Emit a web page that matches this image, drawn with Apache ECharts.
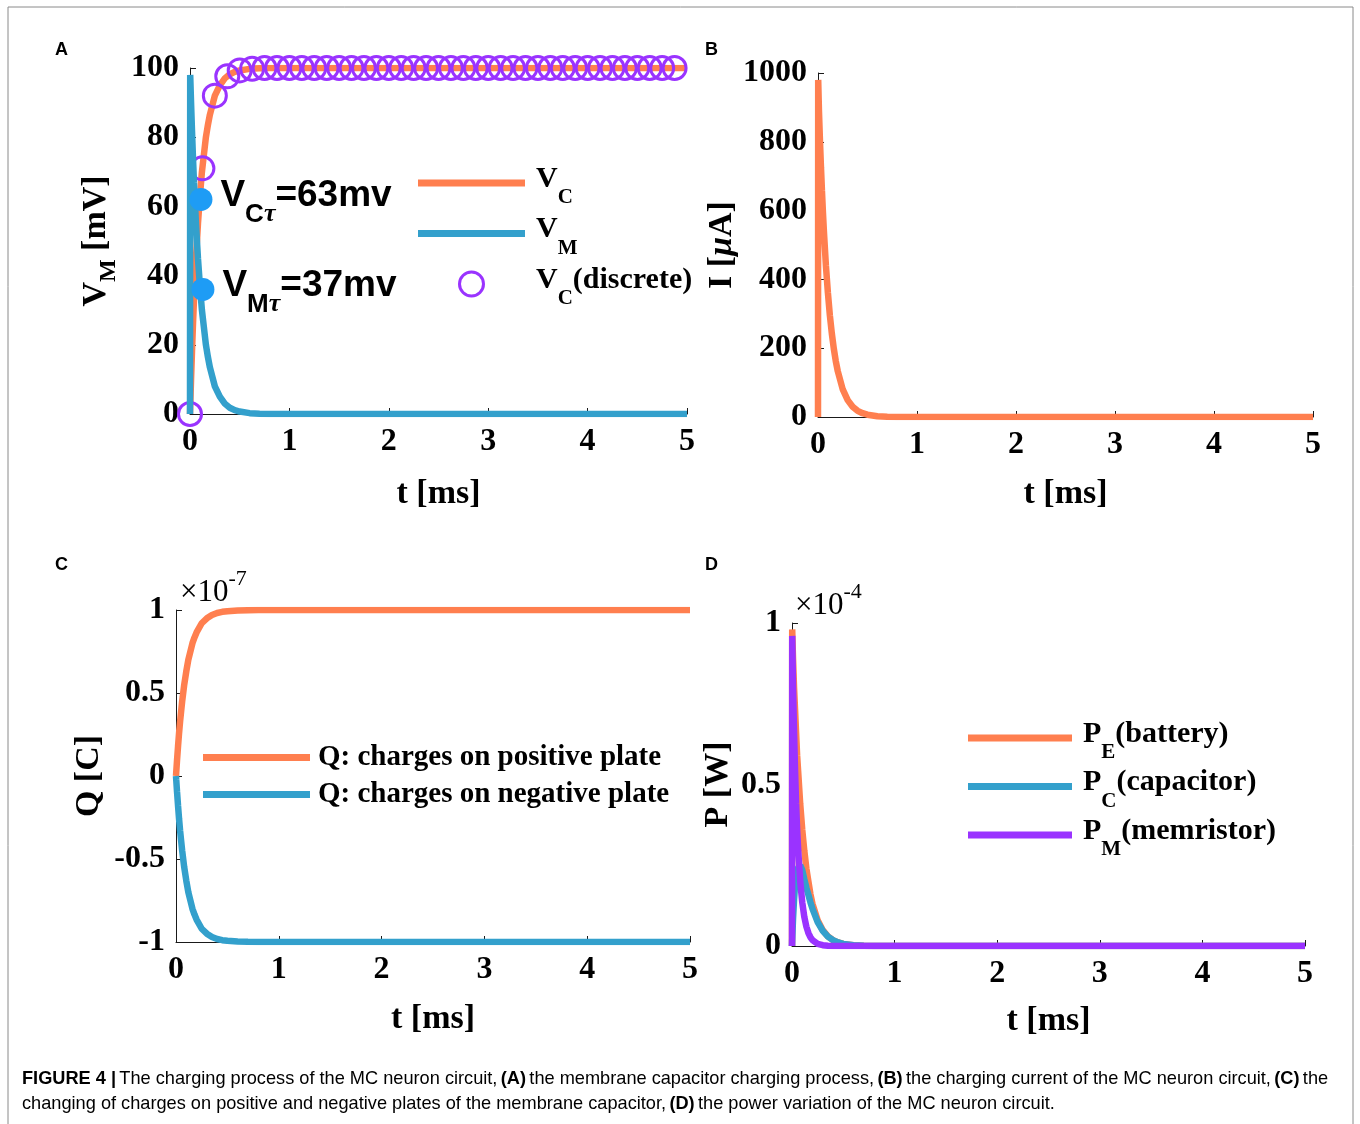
<!DOCTYPE html>
<html>
<head>
<meta charset="utf-8">
<script src="https://cdn.jsdelivr.net/npm/echarts@6/dist/echarts.min.js"></script>
<style>
html,body{margin:0;padding:0;background:#fff;}
#c{width:1360px;height:1124px;}
</style>
</head>
<body>
<div id="c"></div>
<script>
// ---- time samples (ms) for continuous curves ----
const tCurve = [0, 0.002, 0.01, 0.02, 0.03, 0.04, 0.05, 0.06, 0.08, 0.1, 0.12, 0.14, 0.16, 0.18, 0.2, 0.25, 0.3, 0.35, 0.4, 0.45, 0.5, 0.6, 0.7, 0.8, 1, 2, 3, 4, 5];
// Panel A (mV)
const vC = [0, 2, 9.5, 18, 26, 33, 39, 45, 55, 63, 70, 75, 80, 83.5, 86.5, 92, 95, 97, 98.2, 98.9, 99.3, 99.75, 99.9, 100, 100, 100, 100, 100, 100];
const vM = [0, 98, 90.5, 82, 74, 67, 61, 55, 45, 37, 30, 25, 20, 16.5, 13.5, 8, 5, 3, 1.8, 1.1, 0.7, 0.25, 0.1, 0, 0, 0, 0, 0, 0];
// discrete V_C samples
const tDisc = [0, 0.125, 0.25, 0.375, 0.5, 0.625, 0.75, 0.875, 1, 1.125, 1.25, 1.375, 1.5, 1.625, 1.75, 1.875, 2, 2.125, 2.25, 2.375, 2.5, 2.625, 2.75, 2.875, 3, 3.125, 3.25, 3.375, 3.5, 3.625, 3.75, 3.875, 4, 4.125, 4.25, 4.375, 4.5, 4.625, 4.75, 4.875];
const vCDisc = [0, 71, 92, 97.6, 99.3, 99.8, 100, 100, 100, 100, 100, 100, 100, 100, 100, 100, 100, 100, 100, 100, 100, 100, 100, 100, 100, 100, 100, 100, 100, 100, 100, 100, 100, 100, 100, 100, 100, 100, 100, 100];
// tau markers
const tauT = [0.11, 0.13];
const tauV = [62, 36];
const tauLabels = ['C', 'M'];
const tauText = ['=63mv', '=37mv'];
// Panel B (uA)
const iCur = [0, 980, 887, 802, 726, 657, 594, 538, 440, 361, 295, 242, 198, 162, 133, 80, 49, 30, 18, 11, 6.6, 2.4, 0.9, 0.3, 0, 0, 0, 0, 0];
// Panel C (x1e-7 C)
const qPos = [0, 0.02, 0.095, 0.18, 0.26, 0.33, 0.39, 0.45, 0.55, 0.63, 0.70, 0.75, 0.80, 0.835, 0.865, 0.92, 0.95, 0.97, 0.982, 0.989, 0.993, 0.9975, 0.999, 1, 1, 1, 1, 1, 1];
const qNeg = [0, -0.02, -0.095, -0.18, -0.26, -0.33, -0.39, -0.45, -0.55, -0.63, -0.70, -0.75, -0.80, -0.835, -0.865, -0.92, -0.95, -0.97, -0.982, -0.989, -0.993, -0.9975, -0.999, -1, -1, -1, -1, -1, -1];
// Panel D (x1e-4 W)
const pE = [0, 0.98, 0.89, 0.80, 0.73, 0.66, 0.59, 0.54, 0.44, 0.36, 0.295, 0.24, 0.20, 0.16, 0.13, 0.08, 0.049, 0.03, 0.018, 0.011, 0.0066, 0.0024, 0.001, 0, 0, 0, 0, 0, 0];
const pC = [0, 0.02, 0.084, 0.144, 0.189, 0.217, 0.232, 0.242, 0.25, 0.235, 0.207, 0.18, 0.158, 0.135, 0.115, 0.074, 0.047, 0.029, 0.018, 0.011, 0.0066, 0.0024, 0.0009, 0.0003, 0, 0, 0, 0, 0];
const pM = [0, 0.96, 0.80, 0.66, 0.54, 0.44, 0.36, 0.30, 0.20, 0.135, 0.09, 0.06, 0.04, 0.027, 0.018, 0.0067, 0.0025, 0.0009, 0.0003, 0, 0, 0, 0, 0, 0, 0, 0, 0, 0];
// axis ticks
const xTicks = {min: 0, max: 5, interval: 1};
const yA = {min: 0, max: 100, interval: 20};
const yB = {min: 0, max: 1000, interval: 200};
const yC = {min: -1, max: 1, interval: 0.5};
const yD = {min: 0, max: 1, interval: 0.5};

const ORANGE = '#FF7F4F', BLUE = '#33A0CC', PURPLE = '#9A33FF', DOT = '#1E9CF5';
const SERIF = '"Liberation Serif","Times New Roman",serif';
const SANS = '"Liberation Sans",Arial,sans-serif';

const zip = (a, b) => a.map((v, i) => [v, b[i]]);

const chart = echarts.init(document.getElementById('c'), null, {renderer: 'canvas'});

const grids = [
  {left: 190, top: 68, width: 497, height: 346},
  {left: 818, top: 73, width: 495, height: 344},
  {left: 176, top: 610, width: 514, height: 332},
  {left: 792, top: 623, width: 513, height: 323}
];

const nameRich = {
  m: {fontFamily: SERIF, fontWeight: 'bold', fontSize: 34, color: '#000'},
  i: {fontFamily: SERIF, fontWeight: 'bold', fontStyle: 'italic', fontSize: 34, color: '#000'},
  s: {fontFamily: SERIF, fontWeight: 'bold', fontSize: 24, color: '#000', padding: [26, 0, 0, 0]}
};

function xAxis(i, gap) {
  return Object.assign({
    type: 'value', gridIndex: i,
    name: '{m|t [ms]}', nameLocation: 'middle', nameGap: gap,
    nameTextStyle: {rich: nameRich},
    axisLine: {show: true, onZero: false, lineStyle: {color: '#1a1a1a', width: 1}},
    axisTick: {show: true, inside: true, length: 6, lineStyle: {color: '#1a1a1a'}},
    axisLabel: {fontFamily: SERIF, fontWeight: 'bold', fontSize: 32, color: '#000', margin: 12},
    splitLine: {show: false}
  }, xTicks);
}
function yAxis(i, ticks, name, gap) {
  return Object.assign({
    type: 'value', gridIndex: i,
    name: name, nameLocation: 'middle', nameGap: gap, nameRotate: 90,
    nameTextStyle: {rich: nameRich},
    axisLine: {show: true, onZero: false, lineStyle: {color: '#1a1a1a', width: 1}},
    axisTick: {show: true, inside: true, length: 6, lineStyle: {color: '#1a1a1a'}},
    axisLabel: {fontFamily: SERIF, fontWeight: 'bold', fontSize: 32, color: '#000', margin: 11,
                formatter: v => String(v)},
    splitLine: {show: false}
  }, ticks);
}

const legRich = {
  m: {fontFamily: SERIF, fontWeight: 'bold', fontSize: 30, color: '#000', padding: [0, 0, 8, 0]},
  m0: {fontFamily: SERIF, fontWeight: 'bold', fontSize: 30, color: '#000', padding: [0, 0, 8, 6]},
  s: {fontFamily: SERIF, fontWeight: 'bold', fontSize: 21, color: '#000', padding: [30, 0, 0, 0]},
  q: {fontFamily: SERIF, fontWeight: 'bold', fontSize: 29, color: '#000', padding: [0, 0, 0, 3]}
};
const legNames = {
  'VC': '{m0|V}{s|C}',
  'VM': '{m0|V}{s|M}',
  'VC(discrete)': '{m0|V}{s|C}{m|(discrete)}',
  'Q+': '{q|Q: charges on positive plate}',
  'Q-': '{q|Q: charges on negative plate}',
  'PE': '{m0|P}{s|E}{m|(battery)}',
  'PC': '{m0|P}{s|C}{m|(capacitor)}',
  'PM': '{m0|P}{s|M}{m|(memristor)}'
};
const bar = 'path://M0,0H107V7H0Z';

const option = {
  animation: false,
  backgroundColor: '#fff',
  title: [
    {text: 'A', left: 50, top: 36, textStyle: {fontFamily: SANS, fontWeight: 'bold', fontSize: 18, color: '#000'}},
    {text: 'B', left: 700, top: 36, textStyle: {fontFamily: SANS, fontWeight: 'bold', fontSize: 18, color: '#000'}},
    {text: 'C', left: 50, top: 551, textStyle: {fontFamily: SANS, fontWeight: 'bold', fontSize: 18, color: '#000'}},
    {text: 'D', left: 700, top: 551, textStyle: {fontFamily: SANS, fontWeight: 'bold', fontSize: 18, color: '#000'}}
  ],
  grid: grids,
  xAxis: [xAxis(0, 63), xAxis(1, 60), xAxis(2, 60), xAxis(3, 58)],
  yAxis: [
    yAxis(0, yA, '{m|V}{s|M}{m| [mV]}', 69),
    yAxis(1, yB, '{m|I [}{i|μ}{m|A]}', 79),
    yAxis(2, yC, '{m|Q [C]}', 70),
    yAxis(3, yD, '{m|P [W]}', 57)
  ],
  legend: [
    {
      left: 418, top: 164, orient: 'vertical', padding: 0, itemGap: 6,
      itemWidth: 107, itemHeight: 24, selectedMode: false, symbolKeepAspect: true,
      data: [
        {name: 'VC', icon: bar},
        {name: 'VM', icon: bar},
        {name: 'VC(discrete)', icon: 'circle', itemStyle: {color: 'rgba(0,0,0,0)', borderColor: PURPLE, borderWidth: 3}}
      ],
      formatter: n => legNames[n], textStyle: {rich: legRich}
    },
    {
      left: 203, top: 743, orient: 'vertical', padding: 0, itemGap: 8,
      itemWidth: 107, itemHeight: 24, selectedMode: false, symbolKeepAspect: true,
      data: [{name: 'Q+', icon: bar}, {name: 'Q-', icon: bar}],
      formatter: n => legNames[n], textStyle: {rich: legRich}
    },
    {
      left: 968, top: 719, orient: 'vertical', padding: 0, itemGap: 4,
      itemWidth: 104, itemHeight: 24, selectedMode: false, symbolKeepAspect: true,
      data: [{name: 'PE', icon: bar}, {name: 'PC', icon: bar}, {name: 'PM', icon: bar}],
      formatter: n => legNames[n], textStyle: {rich: legRich}
    }
  ],
  series: [
    {name: 'VC', type: 'line', xAxisIndex: 0, yAxisIndex: 0, data: zip(tCurve, vC), showSymbol: false, symbol: 'none',
     color: ORANGE, lineStyle: {color: ORANGE, width: 6.5}, z: 2},
    {name: 'VC(discrete)', type: 'scatter', xAxisIndex: 0, yAxisIndex: 0, data: zip(tDisc, vCDisc), symbol: 'circle', symbolSize: 23,
     itemStyle: {color: 'rgba(0,0,0,0)', borderColor: PURPLE, borderWidth: 3, opacity: 1}, z: 3},
    {name: 'VM', type: 'line', xAxisIndex: 0, yAxisIndex: 0, data: zip(tCurve, vM), showSymbol: false, symbol: 'none',
     color: BLUE, lineStyle: {color: BLUE, width: 6.5}, z: 4},
    {name: 'tau', type: 'scatter', xAxisIndex: 0, yAxisIndex: 0, data: tauT.map((t, i) => ({value: [t, tauV[i]], sub: tauLabels[i], txt: tauText[i]})),
     symbol: 'circle', symbolSize: 23, itemStyle: {color: DOT, opacity: 1}, z: 5,
     label: {show: true, position: 'right', distance: 8, color: '#000', opacity: 1,
       formatter: p => '{a|V}{s|' + p.data.sub + '}{t|τ}{a|' + p.data.txt + '}',
       rich: {
         a: {fontFamily: SANS, fontWeight: 'bold', fontSize: 37, color: '#000', padding: [0, 0, 8, 0]},
         s: {fontFamily: SANS, fontWeight: 'bold', fontSize: 26, color: '#000', padding: [30, 0, 0, 0]},
         t: {fontFamily: SERIF, fontWeight: 'bold', fontStyle: 'italic', fontSize: 26, color: '#000', padding: [30, 0, 0, 0]}
       }}},
    {name: 'I', type: 'line', xAxisIndex: 1, yAxisIndex: 1, data: zip(tCurve, iCur), showSymbol: false, symbol: 'none',
     color: ORANGE, lineStyle: {color: ORANGE, width: 6.5}},
    {name: 'Q+', type: 'line', xAxisIndex: 2, yAxisIndex: 2, data: zip(tCurve, qPos), showSymbol: false, symbol: 'none',
     color: ORANGE, lineStyle: {color: ORANGE, width: 6.5}},
    {name: 'Q-', type: 'line', xAxisIndex: 2, yAxisIndex: 2, data: zip(tCurve, qNeg), showSymbol: false, symbol: 'none',
     color: BLUE, lineStyle: {color: BLUE, width: 6.5}},
    {name: 'PE', type: 'line', xAxisIndex: 3, yAxisIndex: 3, data: zip(tCurve, pE), showSymbol: false, symbol: 'none',
     color: ORANGE, lineStyle: {color: ORANGE, width: 6.5}},
    {name: 'PC', type: 'line', xAxisIndex: 3, yAxisIndex: 3, data: zip(tCurve, pC), showSymbol: false, symbol: 'none',
     color: BLUE, lineStyle: {color: BLUE, width: 6.5}},
    {name: 'PM', type: 'line', xAxisIndex: 3, yAxisIndex: 3, data: zip(tCurve, pM), showSymbol: false, symbol: 'none',
     color: PURPLE, lineStyle: {color: PURPLE, width: 6.5}}
  ],
  graphic: [
    {type: 'rect', shape: {x: 8, y: 7, width: 1345, height: 1140}, style: {fill: 'none', stroke: '#8a8a8a', lineWidth: 1}, silent: true},
    {type: 'text', x: 180, y: 593, style: {text: '{m|×10}{p|-7}', textVerticalAlign: 'middle',
      rich: {m: {fontFamily: SERIF, fontSize: 31, color: '#000'}, p: {fontFamily: SERIF, fontSize: 22, color: '#000', padding: [0, 0, 28, 0]}}}},
    {type: 'text', x: 795, y: 606, style: {text: '{m|×10}{p|-4}', textVerticalAlign: 'middle',
      rich: {m: {fontFamily: SERIF, fontSize: 31, color: '#000'}, p: {fontFamily: SERIF, fontSize: 22, color: '#000', padding: [0, 0, 28, 0]}}}},
    {type: 'text', x: 22, y: 1079, style: {
      text: '{b|FIGURE 4 |} {n|The charging process of the MC neuron circuit,} {b|(A)} {n|the membrane capacitor charging process,} {b|(B)} {n|the charging current of the MC neuron circuit,} {b|(C)} {n|the}',
      textVerticalAlign: 'middle',
      rich: {b: {fontFamily: SANS, fontWeight: 'bold', fontSize: 18.2, color: '#222'}, n: {fontFamily: SANS, fontSize: 18.2, color: '#222'}}}},
    {type: 'text', x: 22, y: 1104, style: {
      text: '{n|changing of charges on positive and negative plates of the membrane capacitor,} {b|(D)} {n|the power variation of the MC neuron circuit.}',
      textVerticalAlign: 'middle',
      rich: {b: {fontFamily: SANS, fontWeight: 'bold', fontSize: 18.2, color: '#222'}, n: {fontFamily: SANS, fontSize: 18.2, color: '#222'}}}}
  ]
};
chart.setOption(option);
</script>
</body>
</html>
